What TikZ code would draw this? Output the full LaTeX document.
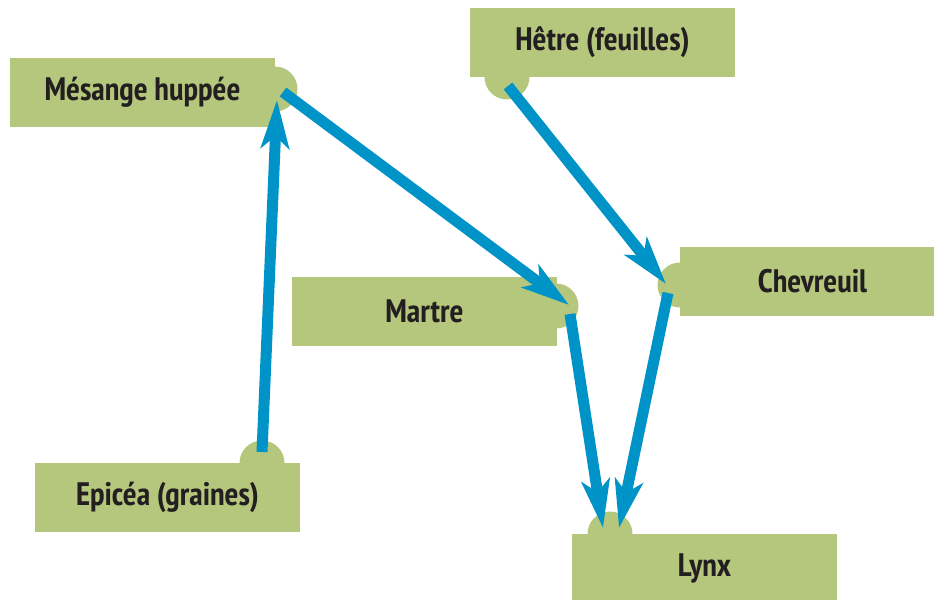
\documentclass[tikz,border=0pt]{standalone}
\usepackage{fontspec}
\setmainfont{PT Sans Narrow}
\usetikzlibrary{arrows.meta}
\definecolor{leaf}{HTML}{B4C77C}
\definecolor{sky}{HTML}{0093C8}
\definecolor{ink}{HTML}{231F20}

\begin{document}
\begin{tikzpicture}[
		x=0.02cm, y=-0.02cm,
		>={Stealth[length=0.96cm,width=0.56cm,inset=0.24cm]},
		species/.style={
			fill=leaf,
			minimum width=5.3cm,
			minimum height=1.38cm,
			inner sep=0pt,
			text=ink,
			font=\bfseries\fontsize{18.5}{22}\selectfont
		},
		tab/.style={
			circle,
			fill=leaf,
			minimum size=0.9cm,
			inner sep=0pt
		},
		feed/.style={
			->,
			draw=sky,
			line width=0.22cm
		}
		]
		
		\useasboundingbox (0,0) rectangle (934,599);
		\clip (0,0) rectangle (934,599);
		
		% Tabs
		\node[tab] (mes-tab) at (275,89) {};
		\node[tab] (het-tab) at (507,77) {};
		\node[tab] (mar-tab) at (556,306) {};
		\node[tab] (che-tab) at (680,285) {};
		\node[tab] (lyn-tab) at (610,534) {};
		\node[tab] (epi-tab) at (262,463) {};
		
		% Species
		\node[species] (mes) at (142.5,92.5) {Mésange huppée};
		\node[species] (het) at (602.5,42.5) {Hêtre (feuilles)};
		\node[species] (mar) at (424.5,311.5) {Martre};
		\node[species] (che) at (812.5,281.5) {Chevreuil};
		\node[species] (lyn) at (704.5,568.5) {Lynx};
		\node[species] (epi) at (167.5,497.5) {Epicéa (graines)};
		
		% Food chain
		\draw[feed] ([shift={(0,-11)}]epi-tab.center) -- ([shift={(2,11)}]mes-tab.center);
		\draw[feed] ([shift={(8,3)}]mes-tab.center) -- ([shift={(13,-1)}]mar-tab.center);
		\draw[feed] ([shift={(1,9)}]het-tab.center) -- ([shift={(-14,-1)}]che-tab.center);
		\draw[feed] ([shift={(14,8)}]mar-tab.center) -- ([shift={(-7,-6)}]lyn-tab.center);
		\draw[feed] ([shift={(-12,8)}]che-tab.center) -- ([shift={(9,-6)}]lyn-tab.center);
		
	\end{tikzpicture}
\end{document}
